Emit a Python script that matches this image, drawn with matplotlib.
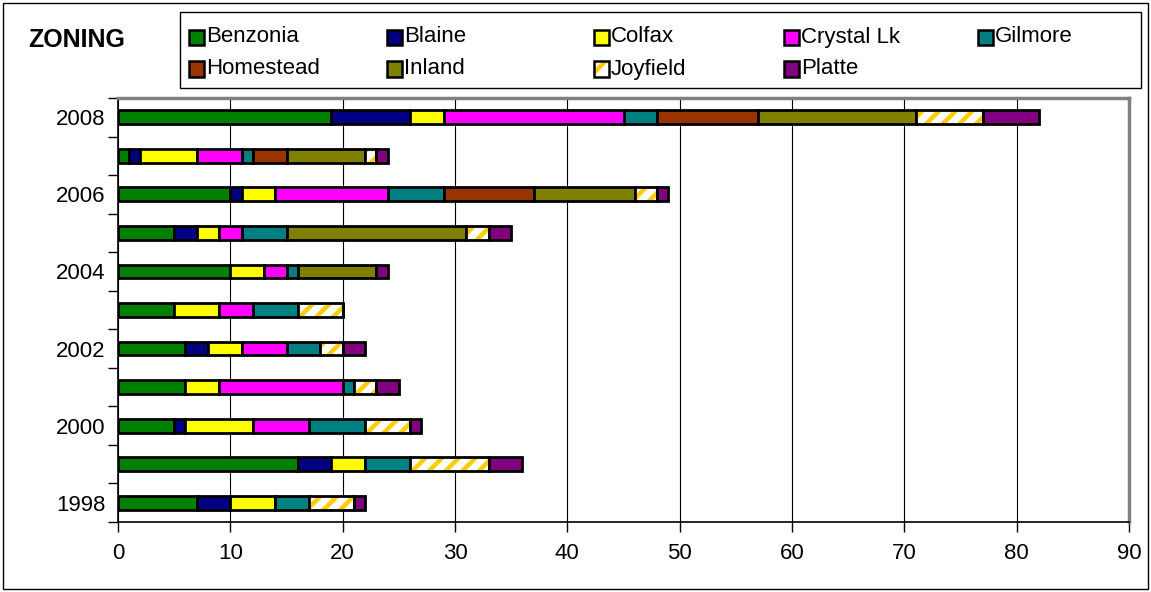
import numpy as np
import matplotlib
matplotlib.use("Agg")
import matplotlib.pyplot as plt
from matplotlib.patches import Rectangle

plt.rcParams['font.family'] = ['Liberation Sans', 'DejaVu Sans']
plt.rcParams['hatch.linewidth'] = 3.2

# dados
anos = [1998, 1999, 2000, 2001, 2002, 2003, 2004, 2005, 2006, 2007, 2008]
benzonia  = [7, 16, 5, 6, 6, 5, 10, 5, 10, 1, 19]
blaine    = [3, 3, 1, 0, 2, 0, 0, 2, 1, 1, 7]
colfax    = [4, 3, 6, 3, 3, 4, 3, 2, 3, 5, 3]
crystal   = [0, 0, 5, 11, 4, 3, 2, 2, 10, 4, 16]
gilmore   = [3, 4, 5, 1, 3, 4, 1, 4, 5, 1, 3]
homestead = [0, 0, 0, 0, 0, 0, 0, 0, 8, 3, 9]
inland    = [0, 0, 0, 0, 0, 0, 7, 16, 9, 7, 14]
joyfield  = [4, 7, 4, 2, 2, 4, 0, 2, 2, 1, 6]
platte    = [1, 3, 1, 2, 2, 0, 1, 2, 1, 1, 5]

nomes = ['Benzonia', 'Blaine', 'Colfax', 'Crystal Lk', 'Gilmore',
         'Homestead', 'Inland', 'Joyfield', 'Platte']
series = [benzonia, blaine, colfax, crystal, gilmore, homestead, inland, joyfield, platte]
cores = ['#008000', '#000080', '#FFFF00', '#FF00FF', '#008080',
         '#993300', '#808000', 'white', '#800080']
ouro = '#FFCC00'

W, H = 1151, 592
fig = plt.figure(figsize=(W / 100, H / 100), dpi=100)

def fx(x):
    return x / W

def fy(y):
    return 1 - y / H

ax = fig.add_axes([fx(118), fy(522), fx(1129) - fx(118), fy(98) - fy(522)])

y = np.arange(len(anos))
esq = np.zeros(len(anos))
for nome, vals, cor in zip(nomes, series, cores):
    vals = np.array(vals, dtype=float)
    if nome == 'Joyfield':
        ax.barh(y, vals, left=esq, height=0.36, color='white', edgecolor=ouro,
                hatch='//', linewidth=0, zorder=3)
        ax.barh(y, vals, left=esq, height=0.36, fill=False, edgecolor='black',
                linewidth=2, zorder=4)
    else:
        ax.barh(y, vals, left=esq, height=0.36, color=cor, edgecolor='black',
                linewidth=2, zorder=3)
    esq += vals

ax.set_xlim(0, 90)
ax.set_ylim(-0.5, len(anos) - 0.5)
ax.set_xticks(np.arange(0, 91, 10))
ax.set_yticks(y[::2])
ax.set_yticklabels([str(a) for a in anos[::2]])
ax.set_yticks(np.arange(-0.5, len(anos), 1), minor=True)
ax.tick_params(axis='y', which='major', length=0, pad=9, labelsize=16)
ax.tick_params(axis='y', which='minor', length=7, width=1)
ax.tick_params(axis='x', length=7, width=1, labelsize=16, pad=8)
ax.grid(axis='x', color='black', linewidth=0.8, zorder=0)
ax.set_axisbelow(True)
for s in ['left', 'bottom']:
    ax.spines[s].set_color('black')
    ax.spines[s].set_linewidth(1.2)
for s in ['top', 'right']:
    ax.spines[s].set_color('#808080')
    ax.spines[s].set_linewidth(2.5)

# borda externa
fig.patches.append(Rectangle((fx(3), fy(589)), fx(1148) - fx(3), fy(3) - fy(589),
                             transform=fig.transFigure, fill=False,
                             edgecolor='black', linewidth=1))

# legenda feita a mao
fig.text(fx(28), fy(40), 'ZONING', fontsize=18, fontweight='bold', va='center')
fig.patches.append(Rectangle((fx(180), fy(88)), fx(1141) - fx(180), fy(12) - fy(88),
                             transform=fig.transFigure, fill=False,
                             edgecolor='black', linewidth=1))
colx = [189, 387, 594, 784, 978]
linhay = [37, 69]
lado = 15
for i, (nome, cor) in enumerate(zip(nomes, cores)):
    cx = colx[i % 5]
    cy = linhay[i // 5]
    pos = (fx(cx), fy(cy + lado / 2))
    w = fx(cx + lado) - fx(cx)
    h = fy(cy - lado / 2) - fy(cy + lado / 2)
    if nome == 'Joyfield':
        fig.patches.append(Rectangle(pos, w, h, transform=fig.transFigure,
                                     facecolor='white', edgecolor=ouro,
                                     hatch='/', linewidth=0))
        fig.patches.append(Rectangle(pos, w, h, transform=fig.transFigure,
                                     fill=False, edgecolor='black', linewidth=1.8))
    else:
        fig.patches.append(Rectangle(pos, w, h, transform=fig.transFigure,
                                     facecolor=cor, edgecolor='black', linewidth=1.8))
    fig.text(fx(cx + lado + 2), fy(cy), nome, fontsize=16, va='center')

fig.savefig('out.png', dpi=100)
